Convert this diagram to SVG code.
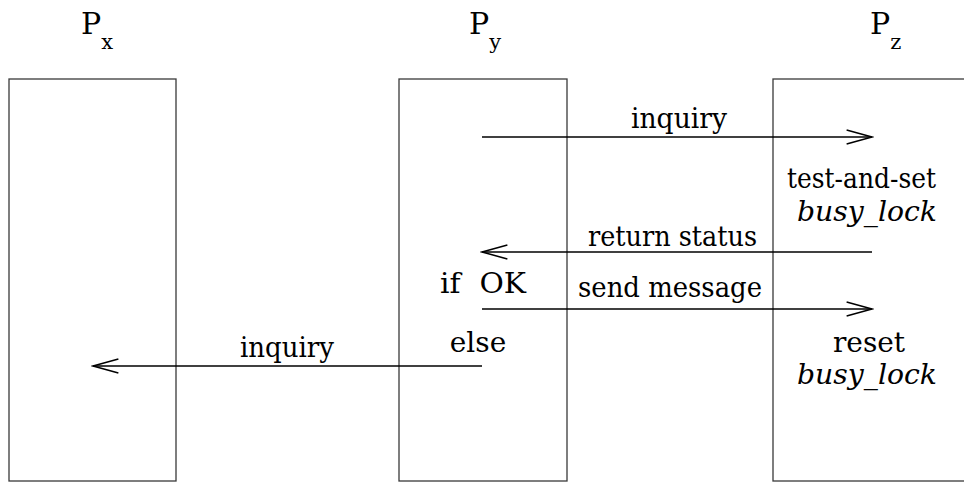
<svg xmlns="http://www.w3.org/2000/svg" width="964" height="485" viewBox="0 0 964 485">
<style>
.box{fill:none;stroke:#3a3a3a;stroke-width:1.3}
.arr{fill:none;stroke:#000;stroke-width:1.3}
text{font-family:"DejaVu Serif","Liberation Serif",serif;fill:#000}
.t{font-size:28px}
.i{font-style:italic}
.m{text-anchor:middle}
.p{font-size:30px}
.s{font-size:21px}
</style>
<defs>
<marker id="ah" markerUnits="userSpaceOnUse" markerWidth="30" markerHeight="20" viewBox="-24 -8 26 16" refX="0" refY="0" orient="auto">
<path d="M-22,-6 L0,0 L-22,6" fill="none" stroke="#000" stroke-width="1.3"/>
</marker>
</defs>
<rect width="964" height="485" fill="#fff"/>
<g id="px">
<rect class="box" x="9" y="79" width="167" height="402"/>
<text class="p" x="81" y="34">P<tspan class="s" dy="15">x</tspan></text>
</g>
<g id="py">
<rect class="box" x="399" y="79" width="168" height="402"/>
<text class="p" x="469" y="34">P<tspan class="s" dy="15">y</tspan></text>
<text class="t" x="440" y="293" textLength="86" lengthAdjust="spacingAndGlyphs" xml:space="preserve">if  OK</text>
<text class="t m" x="478" y="352">else</text>
</g>
<g id="pz">
<rect class="box" x="773" y="79" width="220" height="402"/>
<text class="p" x="870" y="34">P<tspan class="s" dy="15">z</tspan></text>
<text class="t" x="787" y="188" textLength="149" lengthAdjust="spacingAndGlyphs">test-and-set</text>
<text class="t i" x="797" y="221" textLength="140" lengthAdjust="spacingAndGlyphs">busy_lock</text>
<text class="t m" x="869" y="352">reset</text>
<text class="t i" x="797" y="384" textLength="140" lengthAdjust="spacingAndGlyphs">busy_lock</text>
</g>
<g id="connectors">
<line class="arr" x1="482" y1="137" x2="872" y2="137" marker-end="url(#ah)"/>
<text class="t" x="631" y="128" textLength="96" lengthAdjust="spacingAndGlyphs">inquiry</text>
<line class="arr" x1="872" y1="252" x2="482" y2="252" marker-end="url(#ah)"/>
<text class="t" x="588" y="246" textLength="169" lengthAdjust="spacingAndGlyphs">return status</text>
<line class="arr" x1="482" y1="309" x2="872" y2="309" marker-end="url(#ah)"/>
<text class="t" x="578" y="297" textLength="184" lengthAdjust="spacingAndGlyphs">send message</text>
<line class="arr" x1="482" y1="366" x2="93" y2="366" marker-end="url(#ah)"/>
<text class="t" x="240" y="357" textLength="94" lengthAdjust="spacingAndGlyphs">inquiry</text>
</g>
</svg>
